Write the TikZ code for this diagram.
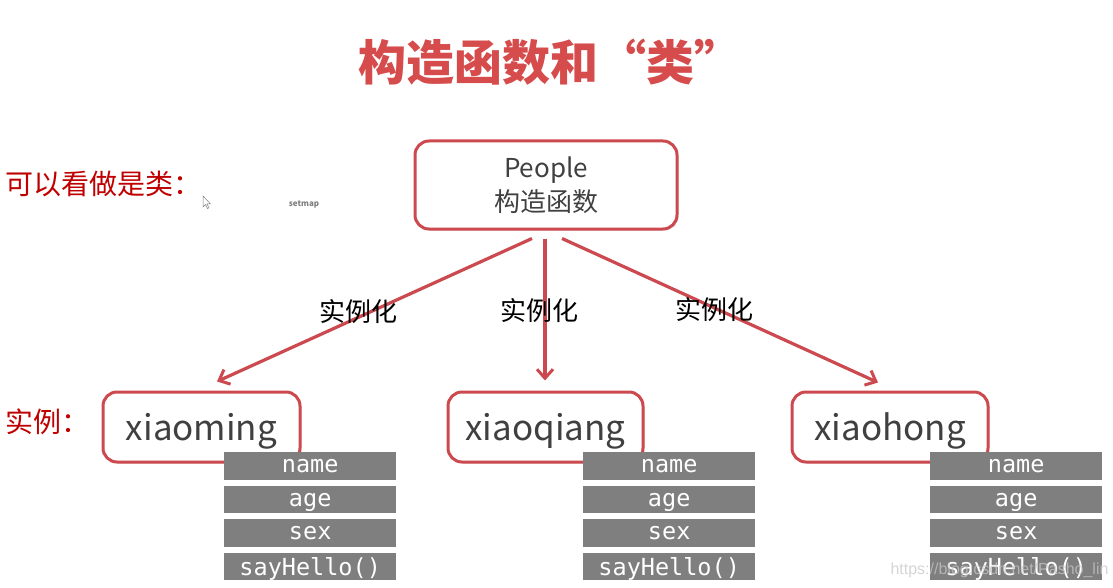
\documentclass[tikz,border=0pt]{standalone}
\usepackage{fontspec}
\setmainfont{Noto Sans CJK SC}
\setmonofont{DejaVu Sans Mono}
\setsansfont{Liberation Sans}
\usetikzlibrary{arrows.meta,shadows,calc}
\definecolor{boxred}{HTML}{CC4A4F}
\definecolor{titlered}{HTML}{D64B4B}
\definecolor{labelred}{HTML}{C00000}
\definecolor{bargray}{HTML}{7F7F7F}
\definecolor{txtgray}{HTML}{404040}
\begin{document}
\begin{tikzpicture}[x=1pt,y=-1pt,
 rbox/.style={draw=boxred, line width=3pt, rounded corners=14pt, fill=white,
   drop shadow={opacity=0.2,shadow xshift=1.5pt,shadow yshift=-1.5pt},
   text=txtgray, inner sep=0pt, align=center},
 nbox/.style={rbox, minimum height=70pt, text depth=1pt, font=\fontsize{35}{35}\selectfont},
 bar/.style={fill=bargray, text=white, font=\ttfamily\fontsize{23.5}{23.5}\selectfont,
   minimum width=172pt, minimum height=27.5pt, text depth=0pt, inner sep=0pt, anchor=north west},
 inst/.style={-{Straight Barb[length=9pt,width=16pt,line width=3pt]}, draw=boxred, line width=3.2pt},
 lbl/.style={font=\fontsize{26}{26}\selectfont, text=black},
 side/.style={anchor=west, text=labelred, font=\fontsize{28}{28}\selectfont}
]
\useasboundingbox (0,0) rectangle (1113,588);
\fill[white] (0,0) rectangle (1113,588);

\node[text=titlered, font=\bfseries\fontsize{48}{48}\selectfont] (title) at (550,62) {构造函数和“类”};

\node[side] (cls) at (2,184) {可以看做是类：};
\node[side] (ins) at (2,422) {实例：};

\node[text=gray, font=\bfseries\fontsize{8}{8}\selectfont] (setmap) at (304,204) {setmap};
\draw[gray, line width=0.5pt, fill=white] (203,196) -- (203,207) -- (205.5,204.5) -- (207.5,208.5) -- (209,207.8) -- (207,204) -- (210.5,204) -- cycle;

\node[rbox, minimum width=262pt, minimum height=88pt, font=\fontsize{26}{34}\selectfont] (people) at (546,185) {People\\构造函数};

\node[nbox, minimum width=197pt] (ming) at (201.5,427) {xiaoming};
\node[nbox, minimum width=195pt] (qiang) at (545.5,427) {xiaoqiang};
\node[nbox, minimum width=196pt] (hong) at (890,427) {xiaohong};

\draw[inst] ($(people.south)+(-14,8)$) -- ($(ming.north)+(15.5,-9)$);
\draw[inst] ($(people.south)+(-1,8)$) -- ($(qiang.north)+(-0.5,-10)$);
\draw[inst] ($(people.south)+(16,8)$) -- ($(hong.north)+(-12,-8)$);

\node[lbl] (l1) at (358,312) {实例化};
\node[lbl] (l2) at (539,311) {实例化};
\node[lbl] (l3) at (714,310) {实例化};

\foreach \x/\n in {224/m,583/q,930/h}{
  \node[bar] (\n1) at (\x,452) {name};
  \node[bar] (\n2) at (\x,485.5) {age};
  \node[bar] (\n3) at (\x,519) {sex};
  \node[bar] (\n4) at (\x,552.5) {sayHello()};
}

\node[anchor=west, text=black!22, opacity=0.75, font=\sffamily\fontsize{16}{16}\selectfont] (wm) at (887,570) {https://blog.csdn.net/Pasho\_lin};
\end{tikzpicture}
\end{document}
